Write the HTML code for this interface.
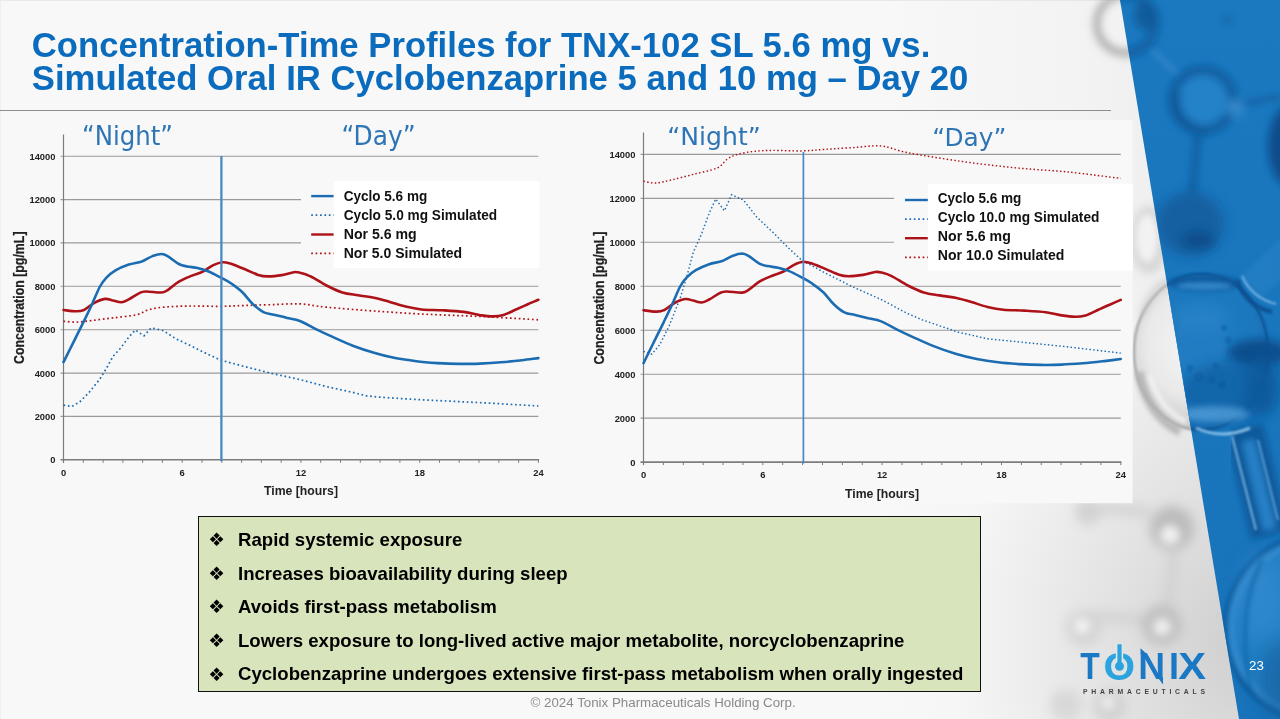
<!DOCTYPE html>
<html lang="en"><head><meta charset="utf-8"><title>Concentration-Time Profiles</title>
<style>
html,body{margin:0;padding:0;}
body{width:1280px;height:719px;overflow:hidden;background:#f8f8f8;position:relative;font-family:"Liberation Sans",sans-serif;}
#bg{position:absolute;left:0;top:0;width:1280px;height:719px;}
#title{position:absolute;left:31.8px;top:29px;margin:0;font-size:34.68px;line-height:33.4px;font-weight:bold;color:#0b6cbd;white-space:nowrap;letter-spacing:0;}
#title span{display:inline-block;transform:scaleY(1.035);transform-origin:0 80%;}
#rule{position:absolute;left:0;top:110px;width:1111px;height:1px;background:#8e8e8e;}
#charts{position:absolute;left:0;top:0;width:1280px;height:719px;}
.tk{font:bold 9.4px "Liberation Sans",sans-serif;fill:#222;}
.lg{font:bold 14.6px "Liberation Sans",sans-serif;fill:#111;}
.ay{font:bold 14.3px "Liberation Sans",sans-serif;fill:#222;stroke:#222;stroke-width:0.25px;}
.ax{font:bold 12.5px "Liberation Sans",sans-serif;fill:#222;}
.nd{font:23.5px "DejaVu Sans","Liberation Sans",sans-serif;fill:#2e75b6;}
#box{position:absolute;left:198px;top:516px;width:781px;height:174px;background:#d8e4bc;border:1px solid #111;}
#box ul{list-style:none;margin:0;padding:0;position:absolute;left:0;top:0;}
#box li{position:absolute;left:0;white-space:nowrap;font-weight:bold;font-size:18.6px;line-height:22px;color:#000;}
#box li b{position:absolute;left:9.2px;top:0.3px;font:18.6px/22px "DejaVu Sans",sans-serif;}
#box li span{position:absolute;left:39px;top:0;}
#foot{position:absolute;left:530.5px;top:695px;font-size:13.33px;line-height:16px;color:#8a8a8a;white-space:nowrap;}
#pg{position:absolute;left:1249px;top:658px;font-size:13.3px;line-height:16px;color:#fff;}
</style></head><body>
<svg id="bg" viewBox="0 0 1280 719">
<defs>
<linearGradient id="gh" x1="0" y1="0" x2="1" y2="0">
<stop offset="0" stop-color="#d8d8d8" stop-opacity="0"/>
<stop offset="0.5" stop-color="#d8d8d8" stop-opacity="0.16"/>
<stop offset="1" stop-color="#d4d4d4" stop-opacity="0.42"/>
</linearGradient>
<radialGradient id="gr" gradientUnits="userSpaceOnUse" cx="1250" cy="640" r="300">
<stop offset="0" stop-color="#c4c4c4" stop-opacity="0.75"/>
<stop offset="0.45" stop-color="#cccccc" stop-opacity="0.42"/>
<stop offset="1" stop-color="#d0d0d0" stop-opacity="0"/>
</radialGradient>
<linearGradient id="bandg" x1="0" y1="0" x2="0" y2="1">
<stop offset="0" stop-color="#1b79c0"/>
<stop offset="0.5" stop-color="#1975bc"/>
<stop offset="1" stop-color="#1873ba"/>
</linearGradient>
<radialGradient id="gsph" cx="0.42" cy="0.45" r="0.6">
<stop offset="0" stop-color="#f4f4f4"/>
<stop offset="0.55" stop-color="#e9e9e9"/>
<stop offset="0.85" stop-color="#cfcfcf"/>
<stop offset="1" stop-color="#aaaaaa"/>
</radialGradient>
<radialGradient id="bsph" cx="0.5" cy="0.45" r="0.6">
<stop offset="0" stop-color="#227dc3"/>
<stop offset="0.7" stop-color="#1d78be"/>
<stop offset="0.92" stop-color="#1568ad"/>
<stop offset="1" stop-color="#0e589b"/>
</radialGradient>
<filter id="b1" x="-50%" y="-50%" width="200%" height="200%"><feGaussianBlur stdDeviation="1"/></filter>
<filter id="b2" x="-50%" y="-50%" width="200%" height="200%"><feGaussianBlur stdDeviation="2"/></filter>
<filter id="b3" x="-50%" y="-50%" width="200%" height="200%"><feGaussianBlur stdDeviation="3"/></filter>
<filter id="b4" x="-50%" y="-50%" width="200%" height="200%"><feGaussianBlur stdDeviation="4"/></filter>
<filter id="b6" x="-50%" y="-50%" width="200%" height="200%"><feGaussianBlur stdDeviation="6"/></filter>
<filter id="b10" x="-50%" y="-50%" width="200%" height="200%"><feGaussianBlur stdDeviation="10"/></filter>
<clipPath id="bandclip"><polygon points="1120,0 1280,0 1280,719 1239,719"/></clipPath>
<clipPath id="grayclip"><polygon points="860,0 1120,0 1239,719 860,719"/></clipPath>
</defs>
<rect x="0" y="0" width="1280" height="719" fill="#f8f8f8"/>
<rect x="0" y="0" width="1120" height="1" fill="#e9e9e9"/>
<rect x="0" y="0" width="1" height="719" fill="#efefef"/>
<rect x="880" y="0" width="400" height="719" fill="url(#gh)"/>
<rect x="900" y="300" width="380" height="419" fill="url(#gr)"/>
<g clip-path="url(#grayclip)">
<!-- top gray ring -->
<g filter="url(#b4)">
<circle cx="1126" cy="24" r="29" fill="none" stroke="#8c8c8c" stroke-width="7" opacity="0.75"/>
<circle cx="1124" cy="22" r="19" fill="#f3f3f3" opacity="0.8"/>
</g>
<!-- small upper sphere + bond -->
<ellipse cx="1149" cy="240" rx="19" ry="34" fill="#d4d4d4" filter="url(#b4)" opacity="0.9"/>
<ellipse cx="1147" cy="238" rx="11" ry="24" fill="#f2f2f2" filter="url(#b3)"/>
<!-- glass sphere gray part -->
<ellipse cx="1201" cy="352" rx="67" ry="78" fill="url(#gsph)" stroke="#a6a6a6" stroke-width="2.5" filter="url(#b1)"/>
<path d="M1139,372 Q1146,414 1180,432" stroke="#b2b2b2" stroke-width="9" fill="none" filter="url(#b2)" opacity="0.85"/>
<path d="M1150,375 Q1158,408 1186,422" stroke="#f4f4f4" stroke-width="5" fill="none" filter="url(#b2)" opacity="0.9"/>
<path d="M1142,315 Q1150,290 1168,280" stroke="#c6c6c6" stroke-width="5" fill="none" filter="url(#b3)" opacity="0.8"/>
<!-- lower blurry molecules -->
<g filter="url(#b6)">
<path d="M1174,552 L1168,610 M1150,620 L1090,616 M1150,512 L1100,508" stroke="#d0d0d0" stroke-width="11" fill="none" opacity="0.85"/>
<circle cx="1172" cy="528" r="22" fill="#bcbcbc"/>
<circle cx="1162" cy="625" r="20" fill="#c0c0c0"/>
<circle cx="1088" cy="512" r="13" fill="#d2d2d2"/>
<circle cx="1084" cy="628" r="18" fill="#d4d4d4"/>
<circle cx="1110" cy="706" r="16" fill="#d0d0d0"/>
<circle cx="1066" cy="705" r="16" fill="#d8d8d8"/>
</g>
<g filter="url(#b4)">
<circle cx="1170" cy="535" r="10" fill="#f0f0f0"/>
<circle cx="1162" cy="627" r="9" fill="#eeeeee"/>
<circle cx="1082" cy="626" r="8" fill="#f2f2f2"/>
<circle cx="1108" cy="703" r="7" fill="#ededed"/>
</g>
</g>
<!-- blue band -->
<polygon points="1120,0 1280,0 1280,719 1239,719" fill="url(#bandg)"/>
<g clip-path="url(#bandclip)">
<!-- top ring partly in band -->
<g filter="url(#b4)">
<circle cx="1126" cy="24" r="29" fill="none" stroke="#10599b" stroke-width="9" opacity="0.85"/>
<ellipse cx="1146" cy="16" rx="12" ry="14" fill="#0f5797" opacity="0.85"/>
</g>
<!-- rods -->
<g filter="url(#b3)" opacity="0.75">
<path d="M1152,50 L1180,76" stroke="#3a8ccc" stroke-width="5"/>
<path d="M1234,106 L1282,96" stroke="#125e9f" stroke-width="6"/>
<path d="M1198,134 L1192,196" stroke="#115c9d" stroke-width="8"/>
</g>
<!-- mid-top sphere -->
<g filter="url(#b4)">
<circle cx="1203" cy="100" r="30" fill="#2383c9" stroke="#0f5899" stroke-width="9" opacity="0.9"/>
<path d="M1176,92 Q1172,125 1206,132" stroke="#0d5394" stroke-width="9" fill="none" opacity="0.8"/>
<circle cx="1236" cy="108" r="9" fill="#3a8fd2" opacity="0.8"/>
</g>
<ellipse cx="1292" cy="146" rx="24" ry="42" fill="#0b4c8a" filter="url(#b4)"/>
<circle cx="1227" cy="20" r="5" fill="#14659f" filter="url(#b3)" opacity="0.6"/>
<!-- dark blurred sphere above glass sphere -->
<ellipse cx="1190" cy="224" rx="34" ry="32" fill="#125e9f" filter="url(#b6)" opacity="0.95"/>
<ellipse cx="1198" cy="240" rx="16" ry="9" fill="#0c4d8b" filter="url(#b4)" opacity="0.9"/>

<!-- glass sphere -->
<ellipse cx="1201" cy="352" rx="67" ry="78" fill="url(#bsph)" stroke="#0d5596" stroke-width="2.5" filter="url(#b1)"/>
<ellipse cx="1204" cy="283" rx="36" ry="8" fill="#0e5799" filter="url(#b2)" opacity="0.85"/>
<ellipse cx="1204" cy="286" rx="28" ry="4" fill="#3b90d3" filter="url(#b2)" opacity="0.8"/>
<ellipse cx="1258" cy="353" rx="30" ry="14" fill="#0b4d8c" filter="url(#b4)" opacity="0.95"/>
<ellipse cx="1262" cy="385" rx="16" ry="30" fill="#0f5899" filter="url(#b6)" opacity="0.8"/>
<ellipse cx="1200" cy="318" rx="30" ry="16" fill="#2e86ca" filter="url(#b6)" opacity="0.5"/>
<ellipse cx="1228" cy="392" rx="48" ry="30" fill="#105a9d" filter="url(#b6)" opacity="0.6"/>
<ellipse cx="1215" cy="414" rx="34" ry="8" fill="#5aa6e0" filter="url(#b3)" opacity="0.7"/>
<!-- bubbles -->
<g fill="none" stroke="#0f5899" stroke-width="1.3" opacity="0.8" filter="url(#b1)">
<circle cx="1199" cy="377" r="3"/><circle cx="1212" cy="380" r="2.5"/><circle cx="1222" cy="385" r="2.5"/><circle cx="1216" cy="366" r="2"/><circle cx="1190" cy="368" r="2"/>
<circle cx="1228" cy="340" r="2"/><circle cx="1236" cy="350" r="2"/><circle cx="1224" cy="328" r="1.8"/>
</g>
<!-- neck upper right -->
<path d="M1250,288 L1290,250" stroke="#3388cc" stroke-width="30" filter="url(#b2)" opacity="0.38"/>
<path d="M1237,280 Q1246,306 1272,312" stroke="#0c5090" stroke-width="4" fill="none" filter="url(#b1)" opacity="0.9"/>
<path d="M1242,276 Q1252,298 1276,304" stroke="#8cc2ec" stroke-width="2" fill="none" filter="url(#b1)" opacity="0.8"/>
<!-- lower neck -->
<path d="M1244,428 L1270,535" stroke="#0d5495" stroke-width="38" filter="url(#b3)" opacity="0.85"/>
<path d="M1248,440 L1270,530" stroke="#2b84ca" stroke-width="14" filter="url(#b3)" opacity="0.9"/>
<path d="M1232,436 L1256,530" stroke="#8ec4ee" stroke-width="2.5" filter="url(#b1)" opacity="0.7"/>
<path d="M1258,440 L1278,520" stroke="#7ab8e8" stroke-width="2.5" filter="url(#b1)" opacity="0.55"/>
<path d="M1196,428 Q1222,440 1250,428" stroke="#9fd0f2" stroke-width="3" fill="none" filter="url(#b1)" opacity="0.8"/>
<!-- bottom sphere -->
<g filter="url(#b2)">
<circle cx="1319" cy="628" r="94" fill="#2380c6" stroke="#0d5596" stroke-width="4" opacity="0.95"/>
<circle cx="1319" cy="628" r="87" fill="none" stroke="#4496d6" stroke-width="4" opacity="0.55"/>
</g>
<ellipse cx="1262" cy="600" rx="22" ry="46" fill="#3a8fd2" filter="url(#b10)" opacity="0.55"/>
<ellipse cx="1285" cy="680" rx="24" ry="40" fill="#14609f" filter="url(#b10)" opacity="0.7"/>
<path d="M1262,560 Q1236,610 1250,690" stroke="#0f5899" stroke-width="3" fill="none" filter="url(#b2)" opacity="0.6"/>
</g>

</svg>
<h1 id="title"><span>Concentration-Time Profiles for TNX-102 SL 5.6 mg vs.</span><br><span>Simulated Oral IR Cyclobenzaprine 5 and 10 mg – Day 20</span></h1>
<div id="rule"></div>
<svg id="charts" viewBox="0 0 1280 719">
<rect x="588" y="120" width="544.6" height="383.2" fill="#f8f8f8"/>
<g id="chartL">
<line x1="60.5" y1="416.4" x2="538.4" y2="416.4" stroke="#9a9a9a" stroke-width="1.1"/>
<line x1="60.5" y1="373.1" x2="538.4" y2="373.1" stroke="#9a9a9a" stroke-width="1.1"/>
<line x1="60.5" y1="329.7" x2="538.4" y2="329.7" stroke="#9a9a9a" stroke-width="1.1"/>
<line x1="60.5" y1="286.3" x2="538.4" y2="286.3" stroke="#9a9a9a" stroke-width="1.1"/>
<line x1="60.5" y1="242.9" x2="538.4" y2="242.9" stroke="#9a9a9a" stroke-width="1.1"/>
<line x1="60.5" y1="199.6" x2="538.4" y2="199.6" stroke="#9a9a9a" stroke-width="1.1"/>
<line x1="60.5" y1="156.2" x2="538.4" y2="156.2" stroke="#9a9a9a" stroke-width="1.1"/>
<line x1="63.5" y1="134.5" x2="63.5" y2="462.8" stroke="#7c7c7c" stroke-width="1.2"/>
<line x1="60.5" y1="459.8" x2="539.0" y2="459.8" stroke="#7c7c7c" stroke-width="1.6"/>
<line x1="63.5" y1="459.8" x2="63.5" y2="462.8" stroke="#7c7c7c" stroke-width="1"/>
<line x1="83.3" y1="459.8" x2="83.3" y2="462.8" stroke="#7c7c7c" stroke-width="1"/>
<line x1="103.1" y1="459.8" x2="103.1" y2="462.8" stroke="#7c7c7c" stroke-width="1"/>
<line x1="122.9" y1="459.8" x2="122.9" y2="462.8" stroke="#7c7c7c" stroke-width="1"/>
<line x1="142.6" y1="459.8" x2="142.6" y2="462.8" stroke="#7c7c7c" stroke-width="1"/>
<line x1="162.4" y1="459.8" x2="162.4" y2="462.8" stroke="#7c7c7c" stroke-width="1"/>
<line x1="182.2" y1="459.8" x2="182.2" y2="462.8" stroke="#7c7c7c" stroke-width="1"/>
<line x1="202.0" y1="459.8" x2="202.0" y2="462.8" stroke="#7c7c7c" stroke-width="1"/>
<line x1="221.8" y1="459.8" x2="221.8" y2="462.8" stroke="#7c7c7c" stroke-width="1"/>
<line x1="241.6" y1="459.8" x2="241.6" y2="462.8" stroke="#7c7c7c" stroke-width="1"/>
<line x1="261.4" y1="459.8" x2="261.4" y2="462.8" stroke="#7c7c7c" stroke-width="1"/>
<line x1="281.2" y1="459.8" x2="281.2" y2="462.8" stroke="#7c7c7c" stroke-width="1"/>
<line x1="300.9" y1="459.8" x2="300.9" y2="462.8" stroke="#7c7c7c" stroke-width="1"/>
<line x1="320.7" y1="459.8" x2="320.7" y2="462.8" stroke="#7c7c7c" stroke-width="1"/>
<line x1="340.5" y1="459.8" x2="340.5" y2="462.8" stroke="#7c7c7c" stroke-width="1"/>
<line x1="360.3" y1="459.8" x2="360.3" y2="462.8" stroke="#7c7c7c" stroke-width="1"/>
<line x1="380.1" y1="459.8" x2="380.1" y2="462.8" stroke="#7c7c7c" stroke-width="1"/>
<line x1="399.9" y1="459.8" x2="399.9" y2="462.8" stroke="#7c7c7c" stroke-width="1"/>
<line x1="419.7" y1="459.8" x2="419.7" y2="462.8" stroke="#7c7c7c" stroke-width="1"/>
<line x1="439.5" y1="459.8" x2="439.5" y2="462.8" stroke="#7c7c7c" stroke-width="1"/>
<line x1="459.2" y1="459.8" x2="459.2" y2="462.8" stroke="#7c7c7c" stroke-width="1"/>
<line x1="479.0" y1="459.8" x2="479.0" y2="462.8" stroke="#7c7c7c" stroke-width="1"/>
<line x1="498.8" y1="459.8" x2="498.8" y2="462.8" stroke="#7c7c7c" stroke-width="1"/>
<line x1="518.6" y1="459.8" x2="518.6" y2="462.8" stroke="#7c7c7c" stroke-width="1"/>
<line x1="538.4" y1="459.8" x2="538.4" y2="462.8" stroke="#7c7c7c" stroke-width="1"/>
<text x="55.5" y="463.2" text-anchor="end" class="tk">0</text>
<text x="55.5" y="419.8" text-anchor="end" class="tk">2000</text>
<text x="55.5" y="376.5" text-anchor="end" class="tk">4000</text>
<text x="55.5" y="333.1" text-anchor="end" class="tk">6000</text>
<text x="55.5" y="289.7" text-anchor="end" class="tk">8000</text>
<text x="55.5" y="246.3" text-anchor="end" class="tk">10000</text>
<text x="55.5" y="203.0" text-anchor="end" class="tk">12000</text>
<text x="55.5" y="159.6" text-anchor="end" class="tk">14000</text>
<text x="63.5" y="476.1" text-anchor="middle" class="tk">0</text>
<text x="182.2" y="476.1" text-anchor="middle" class="tk">6</text>
<text x="300.9" y="476.1" text-anchor="middle" class="tk">12</text>
<text x="419.7" y="476.1" text-anchor="middle" class="tk">18</text>
<text x="538.4" y="476.1" text-anchor="middle" class="tk">24</text>
<path d="M63.5,405.2L71.8,406.5L79.9,401.7L89.0,392.5L99.7,379.3L106.2,368.8L113.0,356.4L120.9,347.7L128.8,337.1L135.3,330.0L144.0,335.8L151.2,327.9L163.0,330.5L176.3,339.0L192.1,346.4L207.9,354.3L221.2,360.3L245.0,366.7L271.3,373.3L300.0,379.6L326.5,386.6L352.8,392.4L366.1,395.8L379.3,397.1L405.6,398.9L432.1,400.3L485.0,402.9L538.4,406.0" fill="none" stroke="#1c6cb2" stroke-width="1.7" stroke-dasharray="1.7 2.7"/>
<path d="M63.5,321.3C65.6,321.4 71.3,322.2 76.0,322.1C80.7,322.0 85.6,321.2 91.8,320.5C98.0,319.8 105.5,318.8 113.0,317.9C120.5,316.9 131.0,316.0 136.7,314.7C142.4,313.4 143.7,311.4 147.2,310.2C150.7,309.1 153.5,308.5 157.9,307.8C162.3,307.2 168.0,306.8 173.7,306.5C179.4,306.2 184.2,306.0 192.1,306.0C200.0,306.0 212.4,306.4 221.2,306.3C230.0,306.2 236.6,305.7 245.0,305.5C253.3,305.2 262.1,304.9 271.3,304.7C280.4,304.4 290.8,303.5 300.0,303.9C309.2,304.3 313.3,305.9 326.5,307.2C339.7,308.4 361.7,310.2 379.3,311.4C396.9,312.6 414.5,313.7 432.1,314.5C449.8,315.4 467.3,315.8 485.0,316.7C502.7,317.5 529.5,319.3 538.4,319.8" fill="none" stroke="#ad1218" stroke-width="1.7" stroke-dasharray="1.7 2.7"/>
<path d="M63.5,310.0C65.6,310.2 72.6,311.3 76.0,311.3C79.4,311.3 80.8,311.4 83.9,310.0C86.9,308.5 90.9,304.7 94.4,302.8C97.9,301.0 101.8,299.3 104.9,298.9C108.0,298.5 110.2,299.9 113.0,300.5C115.7,301.0 118.6,302.5 121.3,302.3C123.9,302.1 125.8,300.9 128.8,299.4C131.8,297.9 136.4,294.4 139.3,293.1C142.1,291.7 142.1,291.6 145.8,291.5C149.6,291.4 158.1,292.8 161.8,292.5C165.6,292.2 165.5,291.4 168.4,289.6C171.2,287.8 174.9,284.0 178.9,281.7C182.8,279.4 188.1,277.3 192.1,275.6C196.1,274.0 199.3,273.5 202.8,271.7C206.3,269.9 210.0,266.7 213.3,265.1C216.6,263.5 219.5,262.4 222.6,262.2C225.7,262.0 228.0,262.9 231.7,264.0C235.4,265.2 240.5,267.5 245.0,269.3C249.4,271.1 254.5,273.7 258.2,274.9C261.9,276.0 263.4,276.4 267.3,276.4C271.3,276.5 277.5,275.8 282.0,275.1C286.4,274.4 290.8,272.6 293.8,272.2C296.8,271.8 297.2,272.0 300.0,272.7C302.7,273.3 306.0,274.1 310.4,276.3C314.9,278.4 321.2,282.9 326.5,285.5C331.8,288.2 337.0,290.8 342.3,292.4C347.6,294.0 352.9,294.4 358.1,295.3C363.4,296.2 368.7,296.6 374.0,297.7C379.2,298.8 384.5,300.4 389.8,301.9C395.1,303.4 400.3,305.4 405.6,306.6C410.9,307.9 415.3,308.9 421.5,309.5C427.6,310.1 435.6,309.9 442.6,310.3C449.7,310.7 457.6,311.1 463.8,311.9C470.0,312.7 474.8,314.3 479.6,315.1C484.5,315.8 488.9,316.4 492.9,316.4C496.8,316.4 499.4,316.3 503.4,315.1C507.3,313.9 512.6,311.0 516.6,309.3C520.6,307.5 523.7,306.1 527.3,304.5C530.9,302.9 536.6,300.6 538.4,299.8" fill="none" stroke="#ad1218" stroke-width="2.6" stroke-linecap="round"/>
<path d="M63.5,362.2C65.1,358.9 70.1,348.9 73.4,342.3C76.7,335.6 80.2,328.6 83.3,322.3C86.4,316.1 89.1,310.6 91.8,304.7C94.5,298.9 97.3,291.5 99.7,287.0C102.1,282.5 103.6,280.5 106.2,277.8C108.9,275.0 111.8,272.6 115.5,270.4C119.3,268.2 124.4,266.1 128.8,264.6C133.2,263.1 137.9,262.8 141.9,261.4C145.8,260.0 149.2,257.4 152.5,256.1C155.9,254.9 159.2,253.9 161.8,254.0C164.5,254.1 165.5,255.0 168.4,256.7C171.2,258.3 175.8,262.4 178.9,264.0C182.0,265.7 183.9,265.8 187.0,266.4C190.1,267.1 194.0,267.2 197.5,268.0C201.0,268.8 204.0,269.6 207.9,271.2C211.9,272.8 217.2,275.7 221.2,277.8C225.2,279.9 228.2,281.4 231.7,283.8C235.2,286.3 238.9,288.9 242.4,292.3C245.9,295.7 249.4,300.8 252.9,304.1C256.4,307.4 259.8,310.3 263.4,312.1C266.9,313.8 270.1,313.7 274.0,314.7C278.0,315.7 282.8,316.8 287.1,317.9C291.4,318.9 295.2,319.1 300.0,321.0C304.7,322.9 310.5,326.5 315.8,329.1C321.1,331.6 325.5,333.7 331.6,336.4C337.8,339.2 345.7,342.9 352.8,345.7C359.9,348.4 366.9,350.7 374.0,352.8C381.0,354.9 388.1,356.7 395.1,358.1C402.2,359.5 409.3,360.4 416.3,361.2C423.4,362.1 430.4,362.6 437.5,363.1C444.5,363.5 451.6,363.8 458.7,363.9C465.7,363.9 472.6,363.9 479.6,363.6C486.7,363.3 493.7,362.9 500.8,362.3C507.9,361.7 515.7,360.9 522.0,360.2C528.2,359.5 535.7,358.4 538.4,358.1" fill="none" stroke="#1c6cb2" stroke-width="2.6" stroke-linecap="round"/>
<line x1="221.4" y1="156" x2="221.4" y2="461.3" stroke="#4a88c4" stroke-width="2.3"/>
<rect x="301" y="181.2" width="33.60000000000002" height="86.7" fill="#f8f8f8"/>
<rect x="333.6" y="181.2" width="205.7" height="86.7" fill="#fff"/>
<line x1="311.2" y1="196.1" x2="333.6" y2="196.1" stroke="#1c6cb2" stroke-width="2.4"/>
<text x="343.7" y="200.9" class="lg" textLength="83.5" lengthAdjust="spacingAndGlyphs">Cyclo 5.6 mg</text>
<line x1="311.2" y1="215.2" x2="333.6" y2="215.2" stroke="#1c6cb2" stroke-width="1.7" stroke-dasharray="1.7 2.7"/>
<text x="343.7" y="220.0" class="lg" textLength="153.5" lengthAdjust="spacingAndGlyphs">Cyclo 5.0 mg Simulated</text>
<line x1="311.2" y1="234.5" x2="333.6" y2="234.5" stroke="#ad1218" stroke-width="2.4"/>
<text x="343.7" y="239.3" class="lg" textLength="73" lengthAdjust="spacingAndGlyphs">Nor 5.6 mg</text>
<line x1="311.2" y1="253.4" x2="333.6" y2="253.4" stroke="#ad1218" stroke-width="1.7" stroke-dasharray="1.7 2.7"/>
<text x="343.7" y="258.2" class="lg" textLength="118.5" lengthAdjust="spacingAndGlyphs">Nor 5.0 Simulated</text>
<text x="82" y="144.7" class="nd" style="font-size:26px" textLength="91" lengthAdjust="spacingAndGlyphs">“Night”</text>
<text x="341.5" y="144.7" class="nd" style="font-size:26px" textLength="74" lengthAdjust="spacingAndGlyphs">“Day”</text>
<text transform="translate(24,364) rotate(-90)" class="ay" textLength="132.5" lengthAdjust="spacingAndGlyphs">Concentration [pg/mL]</text>
<text x="264" y="495" class="ax" textLength="74" lengthAdjust="spacingAndGlyphs">Time [hours]</text>
</g>
<g id="chartR">
<line x1="640.5" y1="418.1" x2="1120.8" y2="418.1" stroke="#9a9a9a" stroke-width="1.1"/>
<line x1="640.5" y1="374.2" x2="1120.8" y2="374.2" stroke="#9a9a9a" stroke-width="1.1"/>
<line x1="640.5" y1="330.2" x2="1120.8" y2="330.2" stroke="#9a9a9a" stroke-width="1.1"/>
<line x1="640.5" y1="286.3" x2="1120.8" y2="286.3" stroke="#9a9a9a" stroke-width="1.1"/>
<line x1="640.5" y1="242.3" x2="1120.8" y2="242.3" stroke="#9a9a9a" stroke-width="1.1"/>
<line x1="640.5" y1="198.4" x2="1120.8" y2="198.4" stroke="#9a9a9a" stroke-width="1.1"/>
<line x1="640.5" y1="154.4" x2="1120.8" y2="154.4" stroke="#9a9a9a" stroke-width="1.1"/>
<line x1="643.5" y1="132.5" x2="643.5" y2="465.1" stroke="#7c7c7c" stroke-width="1.2"/>
<line x1="640.5" y1="462.1" x2="1121.3999999999999" y2="462.1" stroke="#7c7c7c" stroke-width="1.6"/>
<line x1="643.5" y1="462.1" x2="643.5" y2="465.1" stroke="#7c7c7c" stroke-width="1"/>
<line x1="663.4" y1="462.1" x2="663.4" y2="465.1" stroke="#7c7c7c" stroke-width="1"/>
<line x1="683.3" y1="462.1" x2="683.3" y2="465.1" stroke="#7c7c7c" stroke-width="1"/>
<line x1="703.2" y1="462.1" x2="703.2" y2="465.1" stroke="#7c7c7c" stroke-width="1"/>
<line x1="723.0" y1="462.1" x2="723.0" y2="465.1" stroke="#7c7c7c" stroke-width="1"/>
<line x1="742.9" y1="462.1" x2="742.9" y2="465.1" stroke="#7c7c7c" stroke-width="1"/>
<line x1="762.8" y1="462.1" x2="762.8" y2="465.1" stroke="#7c7c7c" stroke-width="1"/>
<line x1="782.7" y1="462.1" x2="782.7" y2="465.1" stroke="#7c7c7c" stroke-width="1"/>
<line x1="802.6" y1="462.1" x2="802.6" y2="465.1" stroke="#7c7c7c" stroke-width="1"/>
<line x1="822.5" y1="462.1" x2="822.5" y2="465.1" stroke="#7c7c7c" stroke-width="1"/>
<line x1="842.4" y1="462.1" x2="842.4" y2="465.1" stroke="#7c7c7c" stroke-width="1"/>
<line x1="862.3" y1="462.1" x2="862.3" y2="465.1" stroke="#7c7c7c" stroke-width="1"/>
<line x1="882.1" y1="462.1" x2="882.1" y2="465.1" stroke="#7c7c7c" stroke-width="1"/>
<line x1="902.0" y1="462.1" x2="902.0" y2="465.1" stroke="#7c7c7c" stroke-width="1"/>
<line x1="921.9" y1="462.1" x2="921.9" y2="465.1" stroke="#7c7c7c" stroke-width="1"/>
<line x1="941.8" y1="462.1" x2="941.8" y2="465.1" stroke="#7c7c7c" stroke-width="1"/>
<line x1="961.7" y1="462.1" x2="961.7" y2="465.1" stroke="#7c7c7c" stroke-width="1"/>
<line x1="981.6" y1="462.1" x2="981.6" y2="465.1" stroke="#7c7c7c" stroke-width="1"/>
<line x1="1001.5" y1="462.1" x2="1001.5" y2="465.1" stroke="#7c7c7c" stroke-width="1"/>
<line x1="1021.4" y1="462.1" x2="1021.4" y2="465.1" stroke="#7c7c7c" stroke-width="1"/>
<line x1="1041.2" y1="462.1" x2="1041.2" y2="465.1" stroke="#7c7c7c" stroke-width="1"/>
<line x1="1061.1" y1="462.1" x2="1061.1" y2="465.1" stroke="#7c7c7c" stroke-width="1"/>
<line x1="1081.0" y1="462.1" x2="1081.0" y2="465.1" stroke="#7c7c7c" stroke-width="1"/>
<line x1="1100.9" y1="462.1" x2="1100.9" y2="465.1" stroke="#7c7c7c" stroke-width="1"/>
<line x1="1120.8" y1="462.1" x2="1120.8" y2="465.1" stroke="#7c7c7c" stroke-width="1"/>
<text x="635.5" y="465.5" text-anchor="end" class="tk">0</text>
<text x="635.5" y="421.5" text-anchor="end" class="tk">2000</text>
<text x="635.5" y="377.6" text-anchor="end" class="tk">4000</text>
<text x="635.5" y="333.6" text-anchor="end" class="tk">6000</text>
<text x="635.5" y="289.7" text-anchor="end" class="tk">8000</text>
<text x="635.5" y="245.7" text-anchor="end" class="tk">10000</text>
<text x="635.5" y="201.8" text-anchor="end" class="tk">12000</text>
<text x="635.5" y="157.8" text-anchor="end" class="tk">14000</text>
<text x="643.5" y="478.40000000000003" text-anchor="middle" class="tk">0</text>
<text x="762.8" y="478.40000000000003" text-anchor="middle" class="tk">6</text>
<text x="882.1" y="478.40000000000003" text-anchor="middle" class="tk">12</text>
<text x="1001.5" y="478.40000000000003" text-anchor="middle" class="tk">18</text>
<text x="1120.8" y="478.40000000000003" text-anchor="middle" class="tk">24</text>
<path d="M643.5,351.4L651.9,354.1L660.0,344.4L669.2,325.7L679.9,299.0L686.5,277.6L693.2,252.5L701.2,234.8L709.1,213.4L715.7,199.0L724.4,210.8L731.6,194.7L743.5,200.1L756.9,217.2L772.8,232.2L788.7,248.2L802.0,260.5L825.9,273.3L852.3,286.7L881.2,299.5L907.8,313.7L921.9,319.7L957.7,332.0L987.4,338.8L1014.0,341.4L1067.1,346.8L1120.8,353.1" fill="none" stroke="#1c6cb2" stroke-width="1.45" stroke-dasharray="1.5 2.3"/>
<path d="M643.5,181.3C645.6,181.6 651.3,183.2 656.0,183.0C660.8,182.7 665.7,181.2 671.9,179.8C678.1,178.3 685.7,176.4 693.2,174.4C700.7,172.4 711.3,170.6 717.1,168.0C722.8,165.4 724.1,161.2 727.6,158.9C731.2,156.6 733.9,155.3 738.4,154.1C742.8,152.8 748.5,152.0 754.3,151.4C760.0,150.8 764.8,150.4 772.8,150.4C780.7,150.3 793.2,151.1 802.0,150.9C810.9,150.7 817.5,149.8 825.9,149.3C834.3,148.7 843.1,148.2 852.3,147.7C861.5,147.1 871.9,145.2 881.2,146.0C890.4,146.9 894.5,150.2 907.8,152.7C921.1,155.2 943.2,158.8 960.9,161.3C978.6,163.8 996.3,165.9 1014.0,167.7C1031.7,169.5 1049.3,170.2 1067.1,171.9C1084.9,173.7 1111.9,177.3 1120.8,178.4" fill="none" stroke="#ad1218" stroke-width="1.45" stroke-dasharray="1.5 2.3"/>
<path d="M643.5,310.2C645.6,310.5 652.6,311.6 656.0,311.6C659.4,311.6 660.9,311.7 664.0,310.2C667.1,308.8 671.0,304.9 674.5,303.0C678.0,301.1 681.9,299.4 685.1,299.0C688.2,298.6 690.5,300.0 693.2,300.6C696.0,301.2 698.9,302.6 701.6,302.5C704.2,302.3 706.1,301.1 709.1,299.5C712.1,298.0 716.8,294.4 719.7,293.1C722.5,291.8 722.5,291.6 726.2,291.5C730.0,291.4 738.6,292.9 742.3,292.6C746.1,292.3 746.1,291.5 748.9,289.6C751.8,287.8 755.5,284.0 759.4,281.6C763.4,279.2 768.8,277.2 772.8,275.5C776.8,273.8 780.0,273.2 783.5,271.5C787.1,269.7 790.7,266.4 794.0,264.8C797.4,263.2 800.3,262.0 803.4,261.8C806.5,261.7 808.8,262.5 812.5,263.7C816.3,264.9 821.4,267.2 825.9,269.1C830.3,270.9 835.4,273.5 839.2,274.7C842.9,275.9 844.4,276.2 848.3,276.3C852.3,276.3 858.6,275.6 863.1,274.9C867.5,274.2 872.0,272.4 875.0,272.0C878.0,271.6 878.4,271.7 881.2,272.4C883.9,273.1 887.3,273.9 891.7,276.1C896.1,278.3 902.5,282.8 907.8,285.5C913.1,288.2 918.4,290.8 923.7,292.4C929.0,294.1 934.3,294.5 939.6,295.4C944.9,296.3 950.2,296.7 955.5,297.8C960.8,298.9 966.1,300.5 971.4,302.1C976.7,303.6 982.1,305.6 987.4,306.9C992.7,308.2 997.1,309.2 1003.3,309.8C1009.5,310.4 1017.5,310.2 1024.5,310.6C1031.6,311.0 1039.6,311.4 1045.8,312.2C1052.0,313.0 1056.9,314.7 1061.7,315.4C1066.6,316.2 1071.1,316.8 1075.1,316.8C1079.0,316.8 1081.6,316.6 1085.6,315.4C1089.6,314.2 1094.9,311.3 1098.9,309.5C1102.9,307.7 1106.0,306.3 1109.7,304.7C1113.3,303.1 1118.9,300.7 1120.8,299.9" fill="none" stroke="#ad1218" stroke-width="2.6" stroke-linecap="round"/>
<path d="M643.5,363.2C645.2,359.8 650.1,349.7 653.4,343.0C656.8,336.2 660.3,329.1 663.4,322.8C666.5,316.4 669.2,310.9 671.9,305.0C674.7,299.0 677.5,291.5 679.9,287.0C682.3,282.4 683.8,280.4 686.5,277.6C689.1,274.8 692.0,272.3 695.8,270.1C699.6,267.9 704.7,265.8 709.1,264.2C713.5,262.7 718.3,262.5 722.3,261.0C726.2,259.6 729.6,256.9 733.0,255.7C736.3,254.4 739.7,253.5 742.3,253.5C745.0,253.6 746.1,254.5 748.9,256.2C751.8,257.9 756.3,262.1 759.4,263.7C762.6,265.3 764.5,265.4 767.6,266.1C770.7,266.8 774.6,266.9 778.1,267.7C781.7,268.5 784.7,269.3 788.7,270.9C792.7,272.6 798.0,275.5 802.0,277.6C806.0,279.8 809.0,281.3 812.5,283.8C816.1,286.2 819.7,288.9 823.3,292.3C826.8,295.7 830.3,301.0 833.8,304.3C837.3,307.7 840.8,310.6 844.4,312.4C847.9,314.1 851.1,314.1 855.1,315.0C859.1,316.0 863.9,317.2 868.2,318.3C872.6,319.3 876.3,319.5 881.2,321.4C886.0,323.3 891.8,327.0 897.1,329.6C902.4,332.2 906.8,334.3 913.0,337.1C919.2,339.9 927.2,343.7 934.3,346.4C941.3,349.2 948.4,351.6 955.5,353.7C962.6,355.8 969.7,357.6 976.8,359.0C983.9,360.4 991.0,361.4 998.1,362.2C1005.2,363.1 1012.3,363.6 1019.4,364.1C1026.5,364.5 1033.6,364.8 1040.7,364.9C1047.7,365.0 1054.7,364.9 1061.7,364.6C1068.8,364.3 1075.9,363.8 1083.0,363.3C1090.1,362.7 1098.0,361.8 1104.3,361.1C1110.6,360.4 1118.0,359.4 1120.8,359.0" fill="none" stroke="#1c6cb2" stroke-width="2.6" stroke-linecap="round"/>
<line x1="803.4" y1="152" x2="803.4" y2="463.6" stroke="#4a88c4" stroke-width="1.7"/>
<rect x="894" y="183.8" width="34.799999999999955" height="86.7" fill="#f8f8f8"/>
<rect x="927.8" y="183.8" width="205.2" height="86.7" fill="#fff"/>
<line x1="905" y1="200" x2="927.8" y2="200" stroke="#1c6cb2" stroke-width="2.4"/>
<text x="937.8" y="202.7" class="lg" textLength="83.5" lengthAdjust="spacingAndGlyphs">Cyclo 5.6 mg</text>
<line x1="905" y1="219.1" x2="927.8" y2="219.1" stroke="#1c6cb2" stroke-width="1.7" stroke-dasharray="1.7 2.7"/>
<text x="937.8" y="221.8" class="lg" textLength="161.6" lengthAdjust="spacingAndGlyphs">Cyclo 10.0 mg Simulated</text>
<line x1="905" y1="238.2" x2="927.8" y2="238.2" stroke="#ad1218" stroke-width="2.4"/>
<text x="937.8" y="240.9" class="lg" textLength="73" lengthAdjust="spacingAndGlyphs">Nor 5.6 mg</text>
<line x1="905" y1="257.3" x2="927.8" y2="257.3" stroke="#ad1218" stroke-width="1.7" stroke-dasharray="1.7 2.7"/>
<text x="937.8" y="260.0" class="lg" textLength="126.5" lengthAdjust="spacingAndGlyphs">Nor 10.0 Simulated</text>
<text x="667.3" y="145.4" class="nd" style="font-size:25.5px" textLength="93.5" lengthAdjust="spacingAndGlyphs">“Night”</text>
<text x="932.3" y="145.8" class="nd" style="font-size:25.5px" textLength="74" lengthAdjust="spacingAndGlyphs">“Day”</text>
<text transform="translate(604,364.6) rotate(-90)" class="ay" textLength="133" lengthAdjust="spacingAndGlyphs">Concentration [pg/mL]</text>
<text x="845" y="498" class="ax" textLength="74" lengthAdjust="spacingAndGlyphs">Time [hours]</text>
</g>
</svg>
<div id="box"><ul>
<li style="top:11.8px"><b>❖</b><span>Rapid systemic exposure</span></li>
<li style="top:45.5px"><b>❖</b><span>Increases bioavailability during sleep</span></li>
<li style="top:79.1px"><b>❖</b><span>Avoids first-pass metabolism</span></li>
<li style="top:112.7px"><b>❖</b><span>Lowers exposure to long-lived active major metabolite, norcyclobenzaprine</span></li>
<li style="top:146.3px"><b>❖</b><span>Cyclobenzaprine undergoes extensive first-pass metabolism when orally ingested</span></li>
</ul></div>
<div id="foot">© 2024 Tonix Pharmaceuticals Holding Corp.</div>
<div id="pg">23</div>
<svg id="logo" style="position:absolute;left:1070px;top:636px" width="150" height="66" viewBox="1070 636 150 66">
<text y="678.6" style="font:bold 36px 'Liberation Sans',sans-serif" fill="#1b78c5"><tspan x="1080.3" textLength="19.5" lengthAdjust="spacingAndGlyphs">T</tspan><tspan x="1103.4" y="679.8" fill="#2aa3df" font-size="38.9" textLength="31.6" lengthAdjust="spacingAndGlyphs">O</tspan><tspan x="1138.3" y="678.6" textLength="26.8" lengthAdjust="spacingAndGlyphs">N</tspan><tspan x="1168.9" y="678.6" textLength="10" lengthAdjust="spacingAndGlyphs">I</tspan><tspan x="1178.3" y="678.6" textLength="27.8" lengthAdjust="spacingAndGlyphs">X</tspan></text>
<!-- power icon details over the O -->
<rect x="1115.8" y="644.3" width="7.4" height="20" fill="#e6e6e6"/>
<rect x="1117.4" y="644.3" width="4.2" height="22" fill="#2aa3df"/>
<circle cx="1119.5" cy="666.2" r="4.5" fill="#2aa3df"/>
<!-- N spikes -->
<path d="M1140.5,654 v-5.8 l6.4,5.8z M1163,677 v7.6 l-5.6,-7.6z" fill="#1b78c5"/>
<text x="1083" y="693.7" textLength="122" lengthAdjust="spacing" style="font:bold 6.8px 'Liberation Sans',sans-serif;fill:#444">PHARMACEUTICALS</text>
</svg>

</body></html>
